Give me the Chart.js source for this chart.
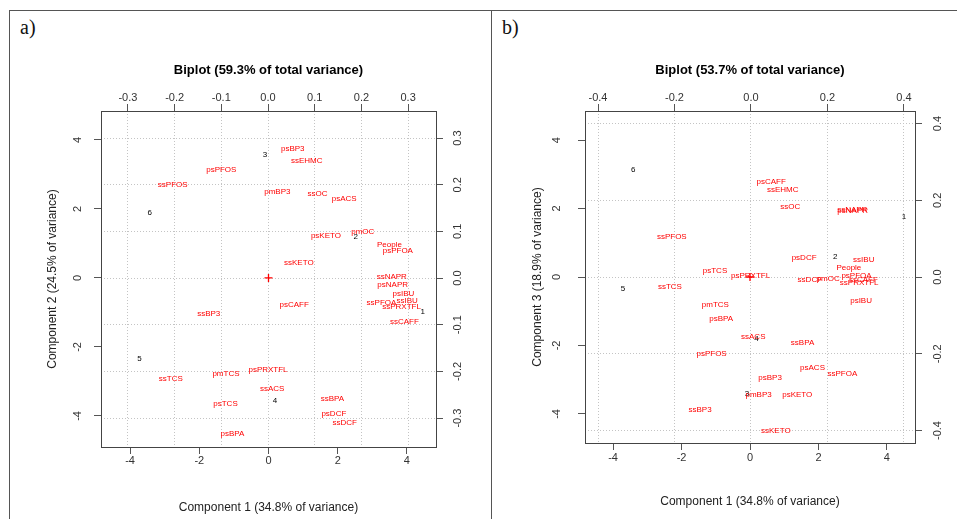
<!DOCTYPE html>
<html>
<head>
<meta charset="utf-8">
<script src="https://cdn.jsdelivr.net/npm/chart.js@4.4.1/dist/chart.umd.min.js"></script>
<style>
  body { margin: 0; background: #fff; }
  #wrap { position: relative; width: 957px; height: 519px; overflow: hidden; }
  canvas { position: absolute; top: 0; }
  #cA { left: 10px; }
  #cB { left: 493px; }
  .linha { position: absolute; background: #555; }
  .tag { position: absolute; font-family: "Liberation Serif", "Times New Roman", serif; font-size: 20px; line-height: 20px; color: #111; }
</style>
</head>
<body>
<div id="wrap">
  <div class="linha" style="left:9px;top:10px;width:948px;height:1px"></div>
  <div class="linha" style="left:9px;top:10px;width:1px;height:509px"></div>
  <div class="linha" style="left:491px;top:10px;width:1px;height:509px"></div>
  <div class="tag" style="left:20px;top:17px">a)</div>
  <div class="tag" style="left:502px;top:17px">b)</div>
  <canvas id="cA" width="480" height="519"></canvas>
  <canvas id="cB" width="464" height="519"></canvas>
</div>
<script>
// ticks dos eixos
const ticksComp = [-4, -2, 0, 2, 4];
const ticksLoadA = [-0.3, -0.2, -0.1, 0.0, 0.1, 0.2, 0.3];
const ticksLoadB = [-0.4, -0.2, 0.0, 0.2, 0.4];

// amostras (scores)
const amostras = ["1", "2", "3", "4", "5", "6"];
const scoreA_x = [4.46, 2.52, -0.10, 0.19, -3.73, -3.43];
const scoreA_y = [-0.97, 1.20, 3.57, -3.57, -2.35, 1.88];
const scoreB_x = [4.50, 2.49, -0.09, 0.19, -3.71, -3.41];
const scoreB_y = [1.77, 0.59, -3.42, -1.81, -0.35, 3.12];

// variaveis (loadings) - painel a
const varsA = ["psBP3", "ssEHMC", "psPFOS", "ssPFOS", "pmBP3", "ssOC", "psACS", "psKETO", "pmOC", "People",
  "psPFOA", "ssKETO", "ssNAPR", "psNAPR", "psIBU", "ssPFOA", "ssIBU", "ssPRXTFL", "ssCAFF", "psCAFF",
  "ssBP3", "ssTCS", "pmTCS", "psPRXTFL", "ssACS", "psTCS", "ssBPA", "psDCF", "ssDCF", "psBPA"];
const loadA_x = [0.053, 0.083, -0.100, -0.204, 0.020, 0.106, 0.163, 0.124, 0.203, 0.260,
  0.278, 0.066, 0.265, 0.267, 0.290, 0.243, 0.298, 0.286, 0.292, 0.056,
  -0.127, -0.208, -0.090, 0.000, 0.009, -0.091, 0.138, 0.141, 0.164, -0.076];
const loadA_y = [0.276, 0.252, 0.231, 0.200, 0.184, 0.180, 0.170, 0.090, 0.100, 0.071,
  0.058, 0.033, 0.002, -0.015, -0.034, -0.053, -0.049, -0.062, -0.093, -0.057,
  -0.076, -0.215, -0.206, -0.197, -0.237, -0.270, -0.259, -0.290, -0.310, -0.334];

// variaveis (loadings) - painel b
const varsB = ["psCAFF", "ssEHMC", "ssOC", "ssNAPR", "psNAPR", "ssPFOS", "psDCF", "ssIBU", "People", "psTCS",
  "psPRXTFL", "ssDCF", "pmOC", "psPFOA", "ssCAFF", "ssPRXTFL", "ssTCS", "psIBU", "pmTCS", "psBPA",
  "ssACS", "ssBPA", "psPFOS", "psACS", "ssPFOA", "psBP3", "pmBP3", "psKETO", "ssBP3", "ssKETO"];
const loadB_x = [0.053, 0.083, 0.103, 0.265, 0.266, -0.207, 0.139, 0.295, 0.256, -0.094,
  -0.001, 0.154, 0.202, 0.276, 0.294, 0.283, -0.212, 0.288, -0.093, -0.078,
  0.006, 0.135, -0.103, 0.161, 0.239, 0.050, 0.020, 0.121, -0.133, 0.065];
const loadB_y = [0.248, 0.228, 0.183, 0.174, 0.172, 0.105, 0.051, 0.046, 0.024, 0.017,
  0.002, -0.006, -0.004, 0.003, -0.006, -0.016, -0.025, -0.063, -0.073, -0.109,
  -0.156, -0.172, -0.199, -0.237, -0.252, -0.262, -0.307, -0.307, -0.347, -0.402];

const FONTE = '"Liberation Sans", Arial, sans-serif';

// escreve os rotulos nos pontos
const rotulos = {
  id: "rotulos",
  afterDatasetsDraw(chart) {
    const ctx = chart.ctx;
    chart.data.datasets.forEach((ds, i) => {
      if (!ds.textos) return;
      const meta = chart.getDatasetMeta(i);
      ctx.save();
      ctx.font = "8px " + FONTE;
      ctx.fillStyle = ds.corTexto;
      ctx.textAlign = "center";
      ctx.textBaseline = "middle";
      meta.data.forEach((pt, j) => ctx.fillText(ds.textos[j], pt.x, pt.y));
      ctx.restore();
    });
  }
};

// moldura da area do grafico
const caixa = {
  id: "caixa",
  afterDraw(chart) {
    const a = chart.chartArea;
    const ctx = chart.ctx;
    ctx.save();
    ctx.strokeStyle = "#444";
    ctx.lineWidth = 1;
    ctx.strokeRect(Math.round(a.left) + 0.5, Math.round(a.top) + 0.5,
      Math.round(a.right - a.left), Math.round(a.bottom - a.top));
    ctx.restore();
  }
};

function eixo(cfg) {
  const vertical = cfg.position === "left" || cfg.position === "right";
  return {
    type: "linear",
    position: cfg.position,
    min: cfg.min,
    max: cfg.max,
    afterBuildTicks: s => { s.ticks = cfg.valores.map(v => ({ value: v })); },
    afterFit: s => { if (vertical) s.width = cfg.tam; else s.height = cfg.tam; },
    ticks: {
      autoSkip: false,
      minRotation: vertical ? 90 : 0,
      maxRotation: vertical ? 90 : 0,
      crossAlign: "center",
      padding: cfg.pad,
      color: "#333",
      font: { family: FONTE, size: 11 },
      callback: cfg.fmt || (v => String(v))
    },
    grid: {
      drawOnChartArea: !!cfg.grade,
      drawTicks: true,
      tickLength: 7,
      tickColor: "#555",
      tickBorderDash: [],
      color: cfg.grade ? "#c4c4c4" : "#555",
      lineWidth: 1
    },
    border: { display: false, dash: cfg.grade ? [1, 2] : [] },
    title: cfg.titulo ? {
      display: true,
      text: cfg.titulo,
      color: cfg.negrito ? "#000" : "#222",
      font: { family: FONTE, size: cfg.negrito ? 13 : 12, weight: cfg.negrito ? "bold" : "normal" },
      padding: cfg.tpad
    } : { display: false }
  };
}

function biplot(id, p) {
  const dec = v => v.toFixed(1);
  new Chart(document.getElementById(id), {
    type: "scatter",
    data: {
      datasets: [
        {
          data: [{ x: 0, y: 0 }],
          xAxisID: "x", yAxisID: "y",
          pointStyle: "cross", pointRadius: 4, borderColor: "#ff0000", borderWidth: 1.3
        },
        {
          data: p.sx.map((v, i) => ({ x: v, y: p.sy[i] })),
          xAxisID: "x", yAxisID: "y",
          pointRadius: 0, textos: amostras, corTexto: "#000"
        },
        {
          data: p.lx.map((v, i) => ({ x: v, y: p.ly[i] })),
          xAxisID: "x2", yAxisID: "y2",
          pointRadius: 0, textos: p.nomes, corTexto: "#ff0000"
        }
      ]
    },
    options: {
      responsive: false,
      animation: false,
      devicePixelRatio: 1,
      layout: { padding: 0 },
      plugins: { legend: { display: false }, tooltip: { enabled: false } },
      scales: {
        x: eixo({ position: "bottom", min: p.xr[0], max: p.xr[1], valores: ticksComp, tam: p.tamX, pad: p.padX,
          titulo: "Component 1 (34.8% of variance)", tpad: { top: 0, bottom: p.tpadX } }),
        y: eixo({ position: "left", min: p.yr[0], max: p.yr[1], valores: ticksComp, tam: p.tamY, pad: p.padY,
          titulo: p.tituloY, tpad: { top: p.tpadY, bottom: 0 } }),
        x2: eixo({ position: "top", min: p.x2r[0], max: p.x2r[1], valores: p.ticksLoad, tam: 111, pad: 6,
          titulo: p.titulo, negrito: true, tpad: { top: 63, bottom: 0 }, grade: true, fmt: dec }),
        y2: eixo({ position: "right", min: p.y2r[0], max: p.y2r[1], valores: p.ticksLoad, tam: p.tamY2, pad: p.padY2,
          grade: true, fmt: dec })
      }
    },
    plugins: [rotulos, caixa]
  });
}

biplot("cA", {
  sx: scoreA_x, sy: scoreA_y, lx: loadA_x, ly: loadA_y, nomes: varsA,
  ticksLoad: ticksLoadA,
  titulo: "Biplot (59.3% of total variance)",
  tituloY: "Component 2 (24.5% of variance)",
  xr: [-4.84, 4.84], yr: [-4.90, 4.84], x2r: [-0.3576, 0.3597], y2r: [-0.362, 0.358],
  tamX: 72, padX: 7, tpadX: 4,
  tamY: 91, padY: 11, tpadY: 35,
  tamY2: 54, padY2: 5.5
});

biplot("cB", {
  sx: scoreB_x, sy: scoreB_y, lx: loadB_x, ly: loadB_y, nomes: varsB,
  ticksLoad: ticksLoadB,
  titulo: "Biplot (53.7% of total variance)",
  tituloY: "Component 3 (18.9% of variance)",
  xr: [-4.82, 4.82], yr: [-4.85, 4.85], x2r: [-0.434, 0.429], y2r: [-0.4326, 0.4326],
  tamX: 76, padX: 8, tpadX: 10,
  tamY: 92, padY: 16, tpadY: 37,
  tamY2: 42, padY2: 6.5
});
</script>
</body>
</html>
